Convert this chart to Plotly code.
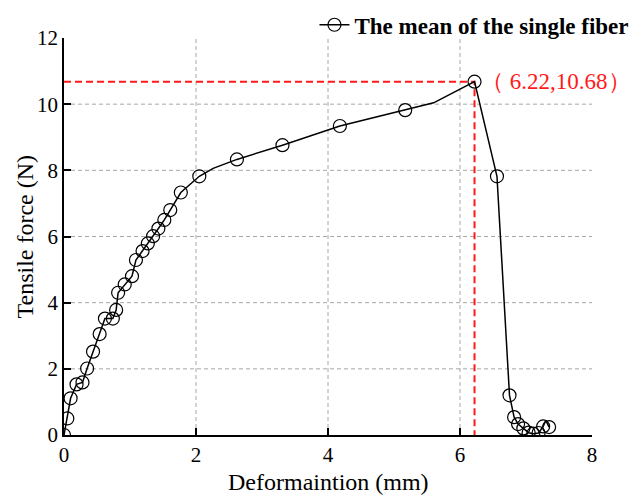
import plotly.graph_objects as go

# ---- data ----
deformation = [0.00, 0.05, 0.10, 0.19, 0.28, 0.35, 0.44, 0.54, 0.62, 0.74,
               0.79, 0.82, 0.92, 1.03, 1.09, 1.19, 1.27, 1.35, 1.43, 1.52,
               1.61, 1.77, 2.05, 2.26, 2.62, 3.31, 4.18, 5.17, 5.60, 6.22,
               6.56, 6.75, 6.82, 6.88, 6.96, 7.04, 7.11, 7.19, 7.26, 7.30,
               7.35]
force = [0.00, 0.50, 1.11, 1.53, 1.59, 2.01, 2.52, 3.05, 3.52, 3.52,
         3.78, 4.30, 4.55, 4.80, 5.29, 5.56, 5.79, 6.01, 6.24, 6.50,
         6.80, 7.33, 7.82, 8.06, 8.33, 8.76, 9.34, 9.82, 10.04, 10.68,
         7.82, 1.20, 0.54, 0.33, 0.20, 0.07, 0.04, 0.06, 0.26, 0.44,
         0.24]
marked = [1, 1, 1, 1, 1, 1, 1, 1, 1, 1,
          1, 1, 1, 1, 1, 1, 1, 1, 1, 1,
          1, 1, 1, 0, 1, 1, 1, 1, 0, 1,
          1, 1, 1, 1, 1, 1, 1, 1, 1, 0,
          1]
peak_x = 6.22
peak_y = 10.68
x_ticks = [0, 2, 4, 6, 8]
y_ticks = [0, 2, 4, 6, 8, 10, 12]
series_name = "The mean of the single fiber"
peak_value_text = "6.22,10.68"
x_title = "Deformaintion (mm)"
y_title = "Tensile force (N)"

SERIF = "Liberation Serif, Times New Roman, serif"

mx = [x for x, m in zip(deformation, marked) if m]
my = [y for y, m in zip(force, marked) if m]

fig = go.Figure()

# red dashed guide lines to the peak
fig.add_trace(go.Scatter(
    x=[0, peak_x, peak_x], y=[peak_y, peak_y, 0], mode="lines",
    line=dict(color="#ff1a1a", width=2, dash="7px,4px"),
    showlegend=False, hoverinfo="skip"))

# curve
fig.add_trace(go.Scatter(
    x=deformation, y=force, mode="lines",
    line=dict(color="black", width=1.5), showlegend=False))
fig.add_trace(go.Scatter(
    x=mx, y=my, mode="markers",
    marker=dict(symbol="circle-open", size=13, color="black",
                line=dict(width=1.2, color="black")),
    showlegend=False))
# legend entry
fig.add_trace(go.Scatter(
    x=[None], y=[None], mode="lines+markers", name=series_name,
    line=dict(color="black", width=1.5),
    marker=dict(symbol="circle-open", size=13, color="black",
                line=dict(width=1.2, color="black"))))

# gridlines (interior ticks only)
shapes = []
for xv in x_ticks[1:-1]:
    shapes.append(dict(type="line", xref="x", yref="y", x0=xv, x1=xv,
                       y0=y_ticks[0], y1=y_ticks[-1], layer="below",
                       line=dict(color="#a8a8a8", width=1, dash="4px,3px")))
for yv in y_ticks[1:-1]:
    shapes.append(dict(type="line", xref="x", yref="y", y0=yv, y1=yv,
                       x0=x_ticks[0], x1=x_ticks[-1], layer="below",
                       line=dict(color="#a8a8a8", width=1, dash="4px,3px")))

fig.add_annotation(x=peak_x, y=peak_y, xref="x", yref="y",
                   text=f"（ {peak_value_text}）", showarrow=False,
                   xanchor="left", yanchor="middle", xshift=4,
                   font=dict(family=SERIF, size=23, color="#ff1a1a"))

# axis titles
fig.add_annotation(x=0.5, y=0, xref="paper", yref="paper", text=x_title,
                   showarrow=False, xanchor="center", yanchor="middle",
                   yshift=-47,
                   font=dict(family=SERIF, size=24, color="black"))
fig.add_annotation(x=0, y=0.5, xref="paper", yref="paper", text=y_title,
                   showarrow=False, xanchor="center", yanchor="middle",
                   xshift=-40, textangle=-90,
                   font=dict(family=SERIF, size=24, color="black"))

axis_common = dict(showgrid=False, zeroline=False, showline=True,
                   linecolor="black", linewidth=1.5, ticks="inside",
                   ticklen=7, tickwidth=1.5, tickcolor="black",
                   tickfont=dict(family=SERIF, size=21, color="black"),
                   mirror=False)

fig.update_layout(
    width=634, height=496,
    margin=dict(l=64, r=42, t=38, b=61, autoexpand=False),
    paper_bgcolor="white", plot_bgcolor="white",
    shapes=shapes,
    xaxis=dict(range=[x_ticks[0], x_ticks[-1]], tickvals=x_ticks,
               **axis_common),
    yaxis=dict(range=[y_ticks[0], y_ticks[-1]], tickvals=y_ticks,
               **axis_common),
    legend=dict(xref="container", yref="container",
                x=0.496, y=0.95, xanchor="left", yanchor="middle",
                bgcolor="rgba(0,0,0,0)",
                font=dict(family=SERIF, size=23, color="black",
                          weight="bold")),
)

fig.write_html("out.html")
